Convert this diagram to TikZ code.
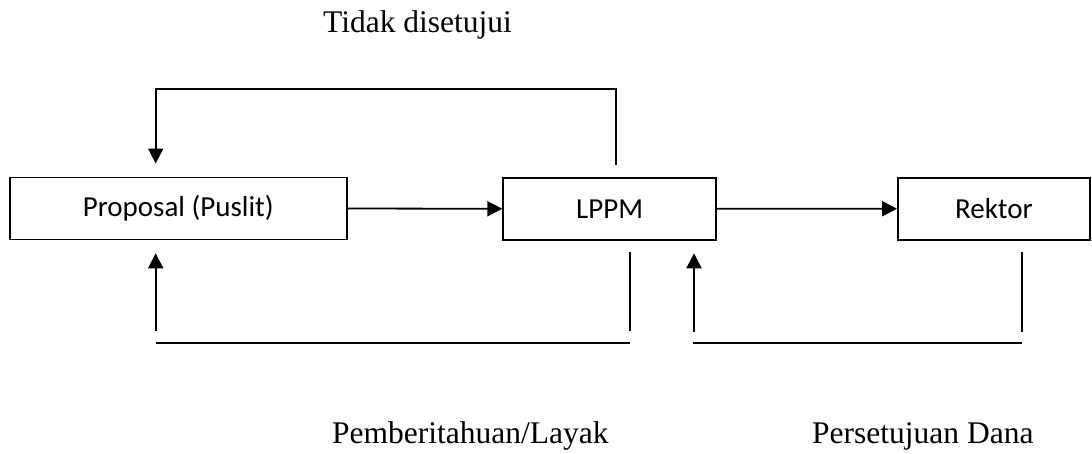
\documentclass[tikz,border=0pt]{standalone}
\usepackage{fontspec}
\setmainfont{Liberation Serif}
\newfontfamily\boxfont{Carlito}
\usetikzlibrary{arrows.meta}
\begin{document}
\begin{tikzpicture}[x=1pt,y=-1pt,
  box/.style={draw,line width=1.9pt,rectangle,inner sep=0pt,minimum height=62pt,font=\boxfont\fontsize{29}{34}\selectfont},
  ln/.style={line width=1.8pt},
  arr/.style={line width=1.8pt,-{Triangle[length=15pt,width=15pt]}},
  lbl/.style={anchor=base west,inner sep=0pt,font=\fontsize{31.5}{36}\selectfont}]
\useasboundingbox (0,0) rectangle (1092,453);
% boxes
\node[box,minimum width=336.7pt] (b1) at (178.3,208.5) {Proposal (Puslit)};
\node[box,minimum width=212.7pt] (b2) at (609.7,208.8) {LPPM};
\node[box,minimum width=192pt] (b3) at (994,208.7) {Rektor};
% forward arrows
\draw[arr] (b1.east) -- (b2.west);
\draw[arr] (b2.east) -- (b3.west);
% top feedback
\coordinate (t1) at (615.7,165);
\coordinate (t2) at (615.7,89);
\coordinate (t3) at (155.7,89);
\coordinate (t4) at (155.7,163.5);
\draw[arr] (t1) -- (t2) -- (t3) -- (t4);
% bottom left
\coordinate (l1) at (155.7,331);
\coordinate (l2) at (155.7,253.3);
\coordinate (l3) at (630,252.3);
\coordinate (l4) at (630,331);
\coordinate (l5) at (155.7,343.3);
\coordinate (l6) at (630,343.3);
\draw[arr] (l1) -- (l2);
\draw[ln] (l3) -- (l4);
\draw[ln] (l5) -- (l6);
% bottom right
\coordinate (r1) at (694,331.5);
\coordinate (r2) at (694,253.3);
\coordinate (r3) at (1021.7,252.3);
\coordinate (r4) at (1021.7,331.5);
\coordinate (r5) at (693.3,343.3);
\coordinate (r6) at (1021.7,343.3);
\draw[arr] (r1) -- (r2);
\draw[ln] (r3) -- (r4);
\draw[ln] (r5) -- (r6);
% labels
\node[lbl] (tidak) at (323,32) {Tidak disetujui};
\node[lbl] (pemb) at (332,443) {Pemberitahuan/Layak};
\node[lbl] (pers) at (812,443) {Persetujuan Dana};
\end{tikzpicture}
\end{document}
